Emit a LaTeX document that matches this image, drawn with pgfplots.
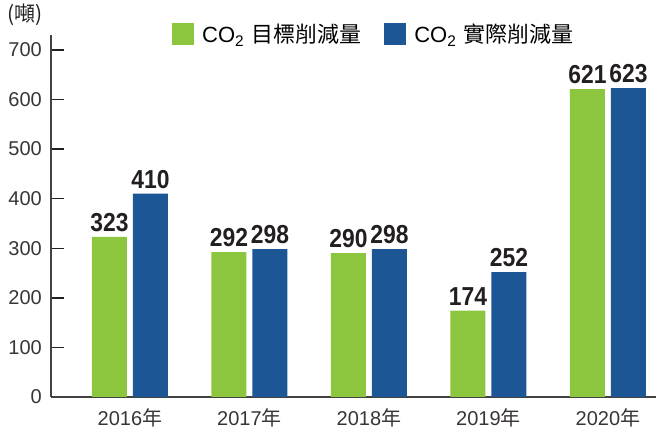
\documentclass[border=0pt]{standalone}
\usepackage{fontspec}
\usepackage{pgfplots}
\pgfplotsset{compat=1.18}
\setmainfont{Liberation Sans}
\newfontfamily\cjk{Noto Sans CJK TC}
\newfontfamily\narrowbold[FakeStretch=0.88]{Liberation Sans Bold}
\definecolor{barG}{HTML}{8CC63F}
\definecolor{barB}{HTML}{1D5695}
\definecolor{txt}{HTML}{231F20}
\begin{document}
\begin{tikzpicture}
\begin{axis}[
 scale only axis, width=605pt, height=362pt,
 xmin=-0.661, xmax=4.402, ymin=0, ymax=730,
 axis x line*=bottom, axis y line*=left,
 axis line style={line width=1.4pt, color=txt!85},
 ybar=6pt, bar width=35pt,
 xtick={0,1,2,3,4},
 xticklabels={2016{\cjk 年},2017{\cjk 年},2018{\cjk 年},2019{\cjk 年},2020{\cjk 年}},
 ytick={0,100,...,700},
 tick align=inside,
 major tick length=13pt,
 x tick style={draw=none},
 y tick style={line width=1.4pt, color=txt},
 tick label style={font=\fontsize{20}{22}\selectfont, text=txt!90},
 /pgf/number format/assume math mode=true,
 yticklabel style={inner sep=0pt, xshift=-9pt},
 xticklabel style={inner sep=0pt, yshift=-11pt},
 nodes near coords,
 nodes near coords style={font=\narrowbold\fontsize{26}{28}\selectfont, text=txt, inner sep=0pt, yshift=5pt},
 clip=false,
 legend style={at={(axis description cs:0.2,1.003)}, anchor=west, draw=none, fill=none,
   font=\fontsize{22}{25}\selectfont, inner sep=0pt,
   nodes={inner sep=0pt},
   /tikz/every odd column/.append style={column sep=8pt},
   /tikz/every even column/.append style={column sep=23pt}},
 legend columns=2,
 legend cell align=left,
 legend image code/.code={\fill[#1] (0pt,-11pt) rectangle (22pt,11pt);},
]
\addplot[fill=barG, draw=none] coordinates {(0,323) (1,292) (2,290) (3,174) (4,621)};
\addplot[fill=barB, draw=none] coordinates {(0,410) (1,298) (2,298) (3,252) (4,623)};
\legend{CO\textsubscript{2}\hspace{7pt}{\cjk 目標削減量}, CO\textsubscript{2}\hspace{7pt}{\cjk 實際削減量}}
\node[font=\cjk\fontsize{21}{23}\selectfont, text=txt] at (axis description cs:-0.043,1.055) {(噸)};
\end{axis}
\pgfresetboundingbox
\path[use as bounding box] (-51pt,-33pt) rectangle (605pt,397pt);
\end{tikzpicture}
\end{document}
